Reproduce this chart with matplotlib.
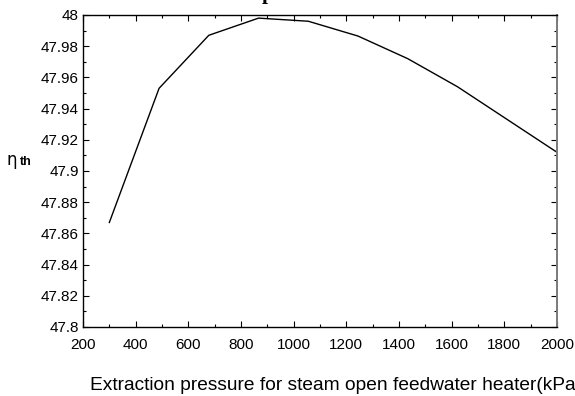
import matplotlib
matplotlib.use('Agg')
import matplotlib.pyplot as plt
from matplotlib.ticker import MultipleLocator

plt.rcParams['font.family'] = ['Liberation Sans', 'DejaVu Sans']

pressure = [300, 488.9, 677.8, 866.7, 1055.6, 1244.4, 1433.3, 1622.2, 1811.1, 2000]
eta_th = [47.867, 47.953, 47.987, 47.998, 47.996, 47.9865, 47.972, 47.954, 47.933, 47.912]

x_ticks = [200, 400, 600, 800, 1000, 1200, 1400, 1600, 1800, 2000]
y_ticks = [47.8, 47.82, 47.84, 47.86, 47.88, 47.9, 47.92, 47.94, 47.96, 47.98, 48]

fig = plt.figure(figsize=(5.75, 3.96), dpi=100)
ax = fig.add_axes([83/575, 1 - 327/396, (557 - 83)/575, (327 - 15)/396])

ax.plot(pressure, eta_th, color='black', lw=1.0)

ax.set_xlim(200, 2000)
ax.set_ylim(47.8, 48)
ax.set_xticks(x_ticks)
ax.set_yticks(y_ticks)
ax.set_xticklabels([str(v) for v in x_ticks])
ax.set_yticklabels(['%g' % v for v in y_ticks])
ax.xaxis.set_minor_locator(MultipleLocator(100))
ax.yaxis.set_minor_locator(MultipleLocator(0.01))

ax.tick_params(which='both', direction='in', top=True, right=True, labelsize=11, width=0.8)
ax.tick_params(which='major', length=4)
ax.tick_params(which='minor', length=2.5)
ax.tick_params(axis='x', pad=8)
ax.tick_params(axis='y', pad=3)

for s in ['left', 'bottom', 'top']:
    ax.spines[s].set_linewidth(1.0)
    ax.spines[s].set_color('black')
ax.spines['right'].set_linewidth(1.4)
ax.spines['right'].set_color('#7a7a7a')

# y label: eta with bold "th"
fig.text(7/575, 1 - 165/396, 'η', fontsize=12, va='baseline', ha='left', family=['DejaVu Sans'])
fig.text(20/575, 1 - 165/396, 'th', fontsize=9, fontweight='bold', va='baseline', ha='left')

# x label (runs off the right edge as in the original)
fig.text(90/575, 1 - 385/396, 'Extraction pressure for steam open feedwater heater(kPa)',
         fontsize=13.8, va='center', ha='left')

# title, mostly cut off at the top of the image
fig.text(262/575, 1 + 1/396, 'plant', fontsize=15, fontweight='bold',
         family=['Liberation Serif', 'DejaVu Serif'], va='baseline', ha='left')

fig.savefig('out.png', dpi=100, facecolor='white')
